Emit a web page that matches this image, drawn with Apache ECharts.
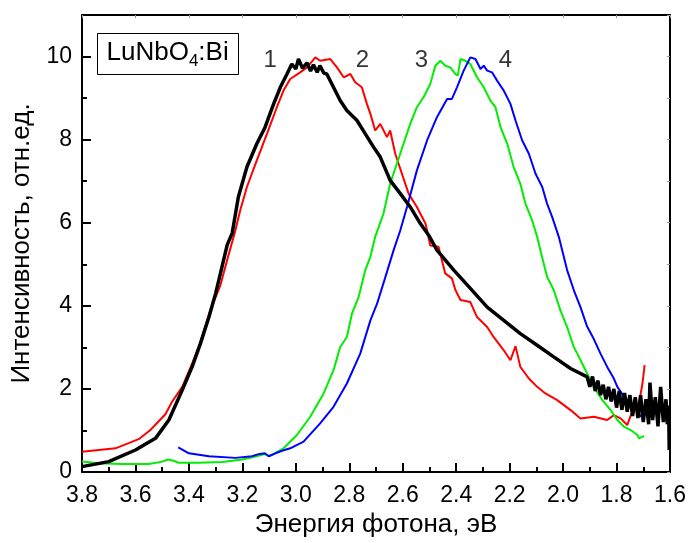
<!DOCTYPE html>
<html><head><meta charset="utf-8">
<script src="https://cdn.jsdelivr.net/npm/echarts@6/dist/echarts.min.js"></script>
<style>html,body{margin:0;padding:0;background:#fff}#c{width:689px;height:543px}</style>
</head><body><div id="c"></div>
<script>
// Curve 1 (black)
const E1 = [3.80,3.70,3.60,3.525,3.475,3.425,3.388,3.357,3.325,3.30,3.282,3.257,3.238,3.215,3.183,3.146,3.115,3.083,3.058,3.033,3.015,3.0,2.99,2.975,2.958,2.945,2.934,2.92,2.91,2.895,2.884,2.859,2.834,2.809,2.771,2.74,2.709,2.684,2.647,2.609,2.572,2.534,2.503,2.472,2.409,2.347,2.284,2.222,2.16,2.097,2.035,1.972,1.91,1.90,1.89,1.88,1.87,1.86,1.85,1.84,1.83,1.82,1.81,1.80,1.79,1.78,1.77,1.76,1.75,1.74,1.73,1.72,1.71,1.70,1.69,1.68,1.675,1.665,1.655,1.645,1.635,1.625,1.615,1.61,1.605,1.603];
const V1 = [0.13,0.25,0.53,0.81,1.25,1.97,2.53,3.09,3.73,4.30,4.78,5.46,5.75,6.62,7.34,7.90,8.30,8.86,9.26,9.58,9.82,9.70,9.94,9.72,9.85,9.65,9.80,9.62,9.78,9.60,9.58,9.26,8.94,8.70,8.46,8.14,7.82,7.58,7.02,6.70,6.38,5.98,5.70,5.34,4.86,4.42,3.97,3.65,3.33,3.05,2.77,2.49,2.29,2.05,2.30,1.95,2.20,1.85,2.10,1.75,2.05,1.70,2.00,1.55,1.95,1.50,1.90,1.45,1.85,1.35,1.80,1.30,1.85,1.20,1.75,1.15,2.15,1.25,1.80,1.10,2.05,1.20,1.75,1.15,1.60,0.53];
// Curve 2 (red)
const E2 = [3.80,3.675,3.588,3.544,3.488,3.463,3.425,3.388,3.363,3.32,3.282,3.257,3.226,3.208,3.183,3.146,3.108,3.071,3.046,3.021,2.984,2.958,2.927,2.909,2.871,2.846,2.821,2.796,2.778,2.753,2.734,2.721,2.703,2.684,2.659,2.647,2.628,2.603,2.578,2.547,2.515,2.509,2.497,2.466,2.441,2.416,2.403,2.384,2.347,2.322,2.284,2.26,2.241,2.222,2.197,2.178,2.16,2.128,2.097,2.066,2.022,1.972,1.935,1.885,1.835,1.81,1.785,1.76,1.735,1.716,1.703,1.695];
const V2 = [0.49,0.57,0.79,1.01,1.39,1.69,2.05,2.61,3.01,3.89,4.50,5.10,5.82,6.30,6.86,7.50,8.14,8.78,9.18,9.46,9.62,9.74,9.98,9.90,9.94,9.74,9.50,9.58,9.38,9.26,8.86,8.62,8.22,8.38,8.06,8.22,7.66,7.18,6.70,6.38,5.98,5.82,5.45,5.42,4.78,4.66,4.38,4.14,4.09,3.73,3.49,3.25,3.09,2.93,2.69,3.03,2.53,2.25,2.05,1.89,1.73,1.49,1.29,1.33,1.25,1.37,1.29,1.13,1.57,1.65,2.13,2.57];
// Curve 3 (green)
const E3 = [3.80,3.738,3.65,3.55,3.50,3.478,3.457,3.438,3.363,3.276,3.20,3.151,3.116,3.101,3.076,3.046,2.996,2.946,2.896,2.859,2.834,2.809,2.79,2.765,2.74,2.721,2.703,2.672,2.647,2.622,2.597,2.572,2.547,2.522,2.497,2.478,2.459,2.441,2.422,2.403,2.394,2.384,2.366,2.347,2.322,2.297,2.272,2.253,2.234,2.209,2.185,2.16,2.141,2.116,2.097,2.085,2.06,2.035,2.01,1.985,1.96,1.947,1.916,1.885,1.853,1.822,1.797,1.772,1.747,1.722,1.716,1.697];
const V3 = [0.25,0.21,0.19,0.19,0.25,0.30,0.27,0.22,0.22,0.24,0.30,0.37,0.43,0.38,0.46,0.57,0.89,1.33,1.89,2.45,3.01,3.25,3.81,4.21,4.86,5.18,5.66,6.22,6.94,7.42,7.90,8.38,8.78,9.02,9.34,9.78,9.90,9.78,9.74,9.58,9.54,9.94,9.90,9.82,9.50,9.26,8.94,8.78,8.30,7.90,7.34,6.94,6.46,6.06,5.66,5.34,4.70,4.38,3.89,3.49,3.01,2.85,2.45,2.05,1.73,1.49,1.25,1.09,1.01,0.89,0.81,0.87];
// Curve 4 (blue)
const E4 = [3.44,3.40,3.325,3.226,3.164,3.139,3.116,3.101,3.076,3.051,3.021,2.971,2.909,2.859,2.809,2.759,2.721,2.696,2.665,2.634,2.609,2.584,2.547,2.509,2.472,2.434,2.416,2.397,2.372,2.347,2.328,2.309,2.297,2.284,2.266,2.247,2.222,2.197,2.178,2.153,2.128,2.103,2.078,2.06,2.041,2.016,1.985,1.96,1.935,1.91,1.885,1.86,1.835,1.81,1.797,1.772,1.747,1.722,1.71,1.695];
const V4 = [0.59,0.45,0.38,0.34,0.38,0.43,0.45,0.38,0.45,0.51,0.57,0.73,1.17,1.57,2.13,2.85,3.65,4.05,4.69,5.34,5.82,6.38,7.26,7.98,8.54,8.98,8.98,9.26,9.66,9.98,9.94,9.70,9.78,9.66,9.62,9.42,9.18,8.86,8.46,7.98,7.66,7.18,6.86,6.46,6.14,5.66,4.86,4.38,3.97,3.50,3.20,2.85,2.53,2.25,2.05,1.81,1.65,1.49,1.33,1.49];

const curveLabels = ['1','2','3','4'];
const labelX = [3.096,2.751,2.530,2.216];
const labelY = [9.9,9.9,9.9,9.9];

const zip = (a,b) => a.map((x,i)=>[x,b[i]]);
const FONT = 'Liberation Sans, Arial, sans-serif';
const chart = echarts.init(document.getElementById('c'));
const mk = (name, E, V, color, w) => ({
  name, type:'line', data: zip(E,V), showSymbol:false, symbol:'none',
  lineStyle:{color, width:w}, animation:false, z: 3
});
chart.setOption({
  animation:false,
  grid:{left:82, right:19, top:15, bottom:71},
  xAxis:[{
    type:'value', inverse:true, min:1.6, max:3.8, interval:0.2,
    axisLine:{lineStyle:{color:'#000', width:2}},
    axisTick:{inside:true, length:9, lineStyle:{color:'#000', width:2}},
    minorTick:{show:true, splitNumber:2, length:5, lineStyle:{color:'#000', width:2}},
    splitLine:{show:false},
    axisLabel:{color:'#000', fontSize:23, fontFamily:FONT, margin:12, formatter:v=>v.toFixed(1)},
    name:'Энергия фотона, эВ', nameLocation:'middle', nameGap:40,
    nameTextStyle:{color:'#000', fontSize:26, fontFamily:FONT}
  },{
    type:'value', inverse:true, min:1.6, max:3.8, interval:0.2, position:'top',
    axisLine:{onZero:false, lineStyle:{color:'#000', width:2}},
    axisTick:{inside:true, length:3, lineStyle:{color:'#999', width:1}},
    axisLabel:{show:false}, splitLine:{show:false}
  }],
  yAxis:[{
    type:'value', min:0, max:11, interval:2,
    axisLine:{show:true, lineStyle:{color:'#000', width:2}},
    axisTick:{show:true, inside:true, length:9, lineStyle:{color:'#000', width:2}},
    minorTick:{show:true, splitNumber:2, length:5, lineStyle:{color:'#000', width:2}},
    splitLine:{show:false},
    axisLabel:{color:'#000', fontSize:23, fontFamily:FONT, margin:10, formatter:v=> v>10.5 ? '' : String(v)},
    name:'Интенсивность, отн.ед.', nameLocation:'middle', nameGap:47,
    nameTextStyle:{color:'#000', fontSize:26, fontFamily:FONT}
  },{
    type:'value', min:0, max:11, interval:1, position:'right',
    axisLine:{show:true, onZero:false, lineStyle:{color:'#000', width:2}},
    axisTick:{show:true, inside:true, length:3, lineStyle:{color:'#999', width:1}},
    axisLabel:{show:false}, splitLine:{show:false}
  }],
  series:[
    mk('2', E2, V2, '#ff0000', 2),
    mk('3', E3, V3, '#00ee00', 2),
    mk('4', E4, V4, '#0000ff', 2),
    mk('1', E1, V1, '#000000', 3.5),
    {
      type:'scatter', symbolSize:0, data: labelX.map((x,i)=>({value:[x,labelY[i]], name:curveLabels[i]})),
      label:{show:true, position:'inside', formatter:p=>p.name, color:'#000', fontSize:24, fontFamily:FONT},
      z:5, silent:true
    }
  ],
  graphic:[{
    type:'group', left:97, top:29,
    children:[
      {type:'rect', shape:{x:0,y:0,width:141,height:41}, style:{fill:'#fff', stroke:'#000', lineWidth:1}},
      {type:'text', x:9, y:4, style:{
        text:'{a|LuNbO}{s|4}{a|:Bi}', fontFamily:FONT,
        rich:{a:{fontSize:26, fontFamily:FONT, fill:'#000', lineHeight:31, height:31},
              s:{fontSize:17, fontFamily:FONT, fill:'#000', padding:[17,0,0,0], lineHeight:31, height:31}}
      }}
    ]
  }]
});
</script></body></html>
